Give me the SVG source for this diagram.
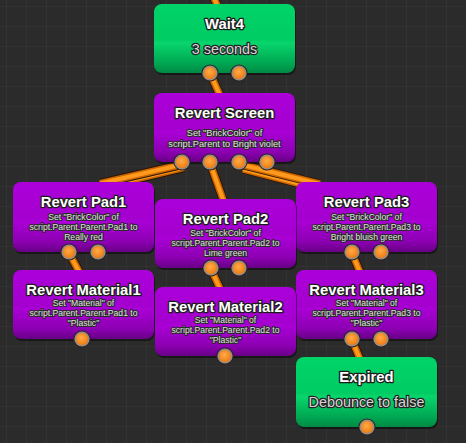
<svg xmlns="http://www.w3.org/2000/svg" xmlns:xlink="http://www.w3.org/1999/xlink" width="466" height="443" viewBox="0 0 466 443">
<style>
.bg{fill:#2b2b2b}
.shadow{fill:#000;opacity:.45}
.purple{fill:url(#gPurple)}
.green{fill:url(#gGreen)}
.title{font-family:"Liberation Sans",Arial,sans-serif;font-weight:bold;font-size:14.8px;fill:#fff;stroke:#1c1c1c;stroke-width:2.6px;paint-order:stroke;stroke-linejoin:round;text-anchor:middle}
.big{font-family:"Liberation Sans",Arial,sans-serif;font-size:14.4px;fill:#d6d6d6;stroke:#222;stroke-width:2.4px;paint-order:stroke;stroke-linejoin:round;text-anchor:middle}
.desc{font-family:"Liberation Sans",Arial,sans-serif;font-size:8.6px;fill:#e2e2e2;stroke:#2a2a2a;stroke-width:2px;paint-order:stroke;stroke-linejoin:round;text-anchor:middle}
.desc2{font-size:9.2px}
.wo{fill:none;stroke:#2a1606;stroke-width:9;stroke-linecap:butt}
.wm{fill:none;stroke:#cc6600;stroke-width:7}
.wc{fill:none;stroke:#ff9a1e;stroke-width:4}
</style>
<defs>
<pattern id="grid" width="20" height="20" patternUnits="userSpaceOnUse" x="6" y="6">
<path d="M20 0 L0 0 0 20" fill="none" stroke="#373737" stroke-width="1.2"/>
</pattern>
<linearGradient id="gPurple" x1="0" y1="0" x2="0" y2="1">
<stop offset="0" stop-color="#ac00da"/>
<stop offset="0.52" stop-color="#a400cf"/>
<stop offset="0.56" stop-color="#aa00d6"/>
<stop offset="0.85" stop-color="#8c00b2"/>
<stop offset="1" stop-color="#680086"/>
</linearGradient>
<linearGradient id="gGreen" x1="0" y1="0" x2="0" y2="1">
<stop offset="0" stop-color="#00d468"/>
<stop offset="0.52" stop-color="#00cc63"/>
<stop offset="0.56" stop-color="#08d66c"/>
<stop offset="0.85" stop-color="#00a853"/>
<stop offset="1" stop-color="#008a44"/>
</linearGradient>
<radialGradient id="gPort" cx="0.45" cy="0.4" r="0.6">
<stop offset="0" stop-color="#ffab4a"/>
<stop offset="1" stop-color="#f07c10"/>
</radialGradient>
<g id="port">
<circle r="8.6" fill="#2a2420"/>
<circle r="7.6" fill="#9a8c82"/>
<circle r="6" fill="url(#gPort)"/>
</g>
<path id="w0" d="M213,-4 L224,20"/>
<path id="w1" d="M210,73 L222,100"/>
<path id="w2" d="M182,164.5 L100,183.5"/>
<path id="w3" d="M184,167.5 L100,187.5"/>
<path id="w4" d="M210,163 L225,205"/>
<path id="w5" d="M239,164 L320,184"/>
<path id="w6" d="M243,169 L320,189"/>
<path id="w7" d="M69,253 L82,277"/>
<path id="w8" d="M211,269 L222,293"/>
<path id="w9" d="M352,253 L362,277"/>
<path id="w10" d="M352,340 L362,364"/>
</defs>
<rect class="bg" width="466" height="443"/>
<rect width="466" height="443" fill="url(#grid)"/>

<g id="connectors">
<use href="#w0" class="wo"/><use href="#w0" class="wm"/><use href="#w0" class="wc"/>
<use href="#w1" class="wo"/><use href="#w1" class="wm"/><use href="#w1" class="wc"/>
<use href="#w3" class="wo"/><use href="#w3" class="wm"/><use href="#w3" class="wc"/>
<use href="#w2" class="wo"/><use href="#w2" class="wm"/><use href="#w2" class="wc"/>
<use href="#w4" class="wo"/><use href="#w4" class="wm"/><use href="#w4" class="wc"/>
<use href="#w6" class="wo"/><use href="#w6" class="wm"/><use href="#w6" class="wc"/>
<use href="#w5" class="wo"/><use href="#w5" class="wm"/><use href="#w5" class="wc"/>
<use href="#w7" class="wo"/><use href="#w7" class="wm"/><use href="#w7" class="wc"/>
<use href="#w8" class="wo"/><use href="#w8" class="wm"/><use href="#w8" class="wc"/>
<use href="#w9" class="wo"/><use href="#w9" class="wm"/><use href="#w9" class="wc"/>
<use href="#w10" class="wo"/><use href="#w10" class="wm"/><use href="#w10" class="wc"/>
</g>

<g id="wait4">
<rect class="shadow" x="155" y="6" width="141" height="69" rx="8"/>
<rect class="green" x="154" y="4" width="141" height="69" rx="8"/>
<text class="title" x="224.5" y="28.5">Wait4</text>
<text class="big" x="224.5" y="54">3 seconds</text>
<use href="#port" x="210" y="73"/><use href="#port" x="239" y="73"/>
</g>

<g id="revert-screen">
<rect class="shadow" x="155" y="95" width="141" height="69" rx="8"/>
<rect class="purple" x="154" y="93" width="141" height="69" rx="8"/>
<text class="title" x="224.5" y="117.5">Revert Screen</text>
<text class="desc desc2" x="224.5" y="135.5">Set "BrickColor" of</text>
<text class="desc desc2" x="224.5" y="146.5">script.Parent to Bright violet</text>
<use href="#port" x="182" y="162"/><use href="#port" x="210" y="162"/><use href="#port" x="239" y="162"/><use href="#port" x="267" y="162"/>
</g>

<g id="revert-pad1">
<rect class="shadow" x="14" y="184" width="141" height="70" rx="8"/>
<rect class="purple" x="13" y="182" width="141" height="70" rx="8"/>
<text class="title" x="83.5" y="206.5">Revert Pad1</text>
<text class="desc" x="83.5" y="220">Set "BrickColor" of</text>
<text class="desc" x="83.5" y="230">script.Parent.Parent.Pad1 to</text>
<text class="desc" x="83.5" y="240">Really red</text>
<use href="#port" x="69" y="252"/><use href="#port" x="98" y="252"/>
</g>

<g id="revert-pad3">
<rect class="shadow" x="297" y="184" width="141" height="70" rx="8"/>
<rect class="purple" x="296" y="182" width="141" height="70" rx="8"/>
<text class="title" x="366.5" y="206.5">Revert Pad3</text>
<text class="desc" x="366.5" y="220">Set "BrickColor" of</text>
<text class="desc" x="366.5" y="230">script.Parent.Parent.Pad3 to</text>
<text class="desc" x="366.5" y="240">Bright bluish green</text>
<use href="#port" x="352" y="252"/><use href="#port" x="381" y="252"/>
</g>

<g id="revert-pad2">
<rect class="shadow" x="156" y="201" width="141" height="69" rx="8"/>
<rect class="purple" x="155" y="199" width="141" height="69" rx="8"/>
<text class="title" x="225.5" y="223.5">Revert Pad2</text>
<text class="desc" x="225.5" y="236">Set "BrickColor" of</text>
<text class="desc" x="225.5" y="246">script.Parent.Parent.Pad2 to</text>
<text class="desc" x="225.5" y="256">Lime green</text>
<use href="#port" x="211" y="268"/><use href="#port" x="239" y="268"/>
</g>

<g id="revert-material1">
<rect class="shadow" x="14" y="272" width="141" height="69" rx="8"/>
<rect class="purple" x="13" y="270" width="141" height="69" rx="8"/>
<text class="title" x="83.5" y="294.5">Revert Material1</text>
<text class="desc" x="83.5" y="306">Set "Material" of</text>
<text class="desc" x="83.5" y="316">script.Parent.Parent.Pad1 to</text>
<text class="desc" x="83.5" y="326">"Plastic"</text>
<use href="#port" x="82" y="339"/>
</g>

<g id="revert-material3">
<rect class="shadow" x="297" y="272" width="141" height="69" rx="8"/>
<rect class="purple" x="296" y="270" width="141" height="69" rx="8"/>
<text class="title" x="366.5" y="294.5">Revert Material3</text>
<text class="desc" x="366.5" y="306">Set "Material" of</text>
<text class="desc" x="366.5" y="316">script.Parent.Parent.Pad3 to</text>
<text class="desc" x="366.5" y="326">"Plastic"</text>
<use href="#port" x="352" y="339"/><use href="#port" x="381" y="339"/>
</g>

<g id="revert-material2">
<rect class="shadow" x="156" y="289" width="141" height="69" rx="8"/>
<rect class="purple" x="155" y="287" width="141" height="69" rx="8"/>
<text class="title" x="225.5" y="311.5">Revert Material2</text>
<text class="desc" x="225.5" y="323">Set "Material" of</text>
<text class="desc" x="225.5" y="333">script.Parent.Parent.Pad2 to</text>
<text class="desc" x="225.5" y="343">"Plastic"</text>
<use href="#port" x="225" y="356"/>
</g>

<g id="expired">
<rect class="shadow" x="297" y="359" width="141" height="70" rx="8"/>
<rect class="green" x="296" y="357" width="141" height="70" rx="8"/>
<text class="title" x="366.5" y="381.5">Expired</text>
<text class="big" x="366.5" y="407">Debounce to false</text>
<use href="#port" x="367" y="427"/>
</g>
</svg>
